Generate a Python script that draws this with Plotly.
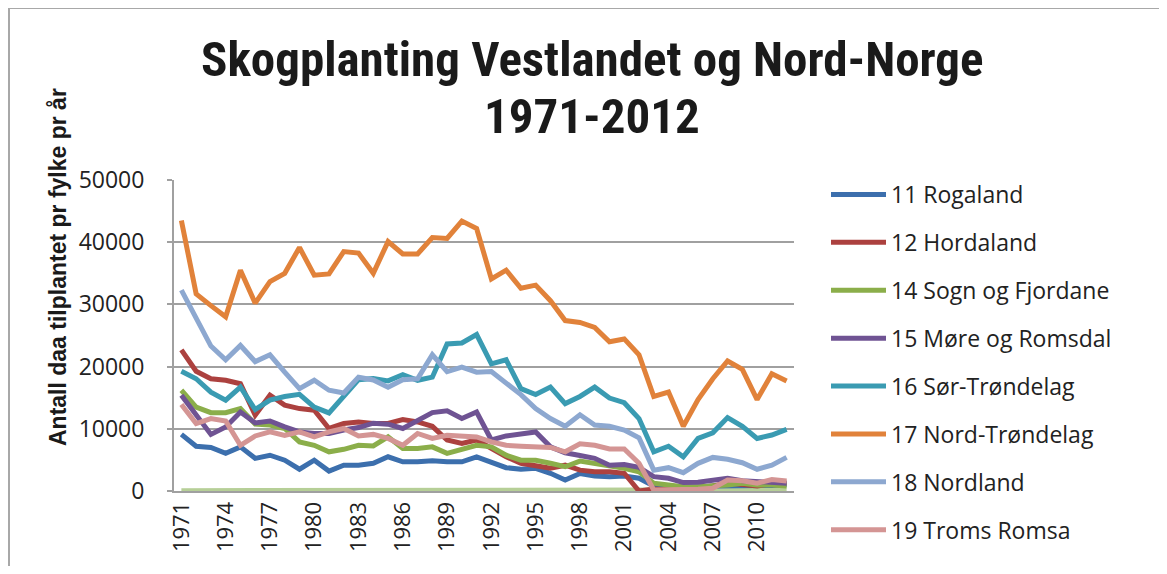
import plotly.graph_objects as go

years = list(range(1971, 2013))

rogaland = [9100, 7200, 7000, 6050, 7100, 5250, 5750, 4950, 3500, 4950, 3200, 4150, 4150, 4450,
            5500, 4700, 4700, 4850, 4700, 4700, 5500, 4700, 3750, 3500, 3650, 2850, 1750, 2800,
            2400, 2300, 2400, 2050, 800, 600, 500, 600, 800, 800, 700, 800, 900, 1000]
hordaland = [22700, 19250, 18050, 17800, 17250, 12200, 15400, 13800, 13250, 13000, 10050, 10850, 11100, 10850,
             10850, 11500, 11100, 10400, 8200, 7650, 8200, 6850, 5500, 4450, 4150, 3650, 4150, 3350,
             3100, 3100, 2850, 0, 300, 200, 300, 500, 800, 1300, 1000, 800, 1200, 1300]
sogn = [16200, 13500, 12600, 12600, 13250, 10750, 10600, 10050, 7900, 7350, 6300, 6700, 7350, 7250,
        8700, 6850, 6850, 7100, 6050, 6700, 7350, 7100, 5750, 4950, 4950, 4450, 3900, 4800,
        4450, 3900, 3650, 3100, 1250, 950, 700, 700, 800, 950, 1250, 950, 950, 800]
more = [15400, 12200, 9100, 10300, 12700, 10950, 11250, 10300, 9500, 9250, 9250, 9800, 10200, 10900,
        10750, 10050, 11250, 12600, 12900, 11650, 12700, 8200, 8850, 9250, 9500, 7100, 6150, 5700,
        5250, 4150, 4250, 3800, 2300, 2050, 1350, 1400, 1750, 2050, 1650, 1500, 1350, 1250]
sor_trondelag = [19250, 18050, 15900, 14600, 16700, 13100, 14600, 15200, 15550, 13500, 12550, 15200, 17900, 18100,
                 17700, 18700, 17800, 18300, 23650, 23800, 25150, 20450, 21100, 16450, 15500, 16700, 14050, 15200,
                 16700, 14950, 14200, 11650, 6300, 7200, 5500, 8450, 9350, 11800, 10400, 8450, 9000, 9900]
nord_trondelag = [43500, 31700, 29800, 28000, 35500, 30200, 33650, 35000, 39150, 34700, 34900, 38500, 38250, 35000,
                  40100, 38100, 38100, 40750, 40600, 43400, 42200, 34100, 35500, 32600, 33100, 30600, 27400, 27100,
                  26300, 24000, 24450, 21900, 15200, 15900, 10400, 14700, 18050, 20900, 19550, 14700, 18850, 17700]
nordland = [32300, 27900, 23300, 21100, 23400, 20800, 21900, 19100, 16450, 17800, 16200, 15750, 18300, 17850,
            16700, 17900, 18050, 21900, 19200, 19900, 19100, 19200, 17250, 15500, 13250, 11650, 10400, 12250,
            10600, 10400, 9800, 8550, 3350, 3750, 2950, 4450, 5400, 5100, 4550, 3500, 4150, 5400]
troms = [13900, 10850, 11650, 11250, 7350, 8850, 9500, 8950, 9500, 8700, 9500, 10050, 8850, 9100,
         8450, 7350, 9250, 8450, 8950, 8850, 8700, 7900, 7350, 7200, 7200, 7000, 6300, 7600,
         7350, 6750, 6750, 4450, 150, 150, 150, 300, 450, 1750, 1650, 1250, 1850, 1600]
finnmark = [50, 60, 80, 70, 60, 80, 100, 90, 120, 130, 110, 100, 90, 100,
            120, 130, 110, 120, 150, 140, 130, 120, 100, 150, 160, 170, 150, 160,
            170, 180, 160, 170, 150, 140, 150, 160, 170, 160, 150, 160, 170, 160]

series = [
    ("11 Rogaland", rogaland, "#3C6FAD", True),
    ("12 Hordaland", hordaland, "#AC413F", True),
    ("14 Sogn og Fjordane", sogn, "#8BAE4A", True),
    ("15 Møre og Romsdal", more, "#6F5393", True),
    ("16 Sør-Trøndelag", sor_trondelag, "#3A9BB2", True),
    ("17 Nord-Trøndelag", nord_trondelag, "#E1823A", True),
    ("18 Nordland", nordland, "#8DA8D0", True),
    ("19 Troms Romsa", troms, "#D49594", True),
    ("20 Finnmark", finnmark, "#B6CF97", False),
]

title_lines = ["Skogplanting Vestlandet og Nord-Norge", "1971-2012"]
y_title = "Antall daa tilplantet pr fylke pr år"
xtick_vals = years[::3]
ytick_vals = [0, 10000, 20000, 30000, 40000, 50000]

fig = go.Figure()
order = [8, 0, 1, 2, 3, 4, 5, 6, 7]
for idx in order:
    name, vals, color, show = series[idx]
    fig.add_trace(go.Scatter(
        x=years, y=vals, name=name, mode="lines",
        line=dict(color=color, width=5),
        showlegend=show, legendgroup=name, legendrank=idx + 1,
    ))

# screen coordinates of the target; page body has an 8px margin
O = 8
W, H = 1167 - 2 * O, 574 - 2 * O
PL, PR, PT, PB = 174, 794, 180, 491  # plot area in screen px
L, T = PL - O, PT - O
R = W - (PR - O)
B = H - (PB - O)
pw, ph = W - L - R, H - T - B

def px(x):
    return (x - O - L) / pw

def py(y):
    return (H - B - (y - O)) / ph

grid = "#A0A0A0"
fig.update_layout(
    width=W, height=H,
    margin=dict(l=L, r=R, t=T, b=B, autoexpand=False),
    paper_bgcolor="white", plot_bgcolor="white",
    font=dict(family="Open Sans, sans-serif", color="#222222"),
    xaxis=dict(
        range=[1970.5, 2012.5], tickmode="array", tickvals=xtick_vals,
        ticktext=[str(v) for v in xtick_vals], tickangle=-90,
        tickfont=dict(size=22, family="Open Sans"), showgrid=False,
        showline=True, linecolor=grid, linewidth=2, zeroline=False, ticks="",
    ),
    yaxis=dict(
        range=[0, 50000], tickmode="array", tickvals=ytick_vals,
        ticktext=[str(v) for v in ytick_vals],
        tickfont=dict(size=23, family="Open Sans"),
        showgrid=True, gridcolor=grid, gridwidth=2,
        showline=True, linecolor=grid, linewidth=2, zeroline=False,
        ticks="outside", ticklen=5, tickcolor=grid, tickwidth=2,
        ticklabelstandoff=18,
    ),
    legend=dict(
        x=px(826), y=py(173), xanchor="left", yanchor="top",
        font=dict(size=23, family="Open Sans", color="#222222"),
        tracegroupgap=15, itemwidth=55, bgcolor="rgba(0,0,0,0)",
        maxheight=700,
    ),
    showlegend=True,
)

title_font = dict(size=49, family="Roboto Condensed, Liberation Sans Narrow, sans-serif", color="#1a1a1a")
fig.add_annotation(
    text="<b>" + title_lines[0] + "</b>",
    x=px(592), y=py(29), xref="paper", yref="paper",
    xanchor="center", yanchor="top", showarrow=False, font=title_font,
)
fig.add_annotation(
    text="<b>" + title_lines[1] + "</b>",
    x=px(592), y=py(86), xref="paper", yref="paper",
    xanchor="center", yanchor="top", showarrow=False, font=title_font,
)
fig.add_annotation(
    text="<b>" + y_title + "</b>",
    x=px(58), y=py(267), xref="paper", yref="paper",
    xanchor="center", yanchor="middle", showarrow=False, textangle=-90,
    font=dict(size=23, family="Liberation Sans, Arial, sans-serif", color="#1a1a1a"),
)
fig.add_shape(type="line", xref="paper", yref="paper",
              x0=px(9), x1=px(1180), y0=py(8), y1=py(8),
              line=dict(color="#A8A8A8", width=2))
fig.add_shape(type="line", xref="paper", yref="paper",
              x0=px(9), x1=px(9), y0=py(8), y1=py(600),
              line=dict(color="#A8A8A8", width=2))

fig.write_html("out.html")
